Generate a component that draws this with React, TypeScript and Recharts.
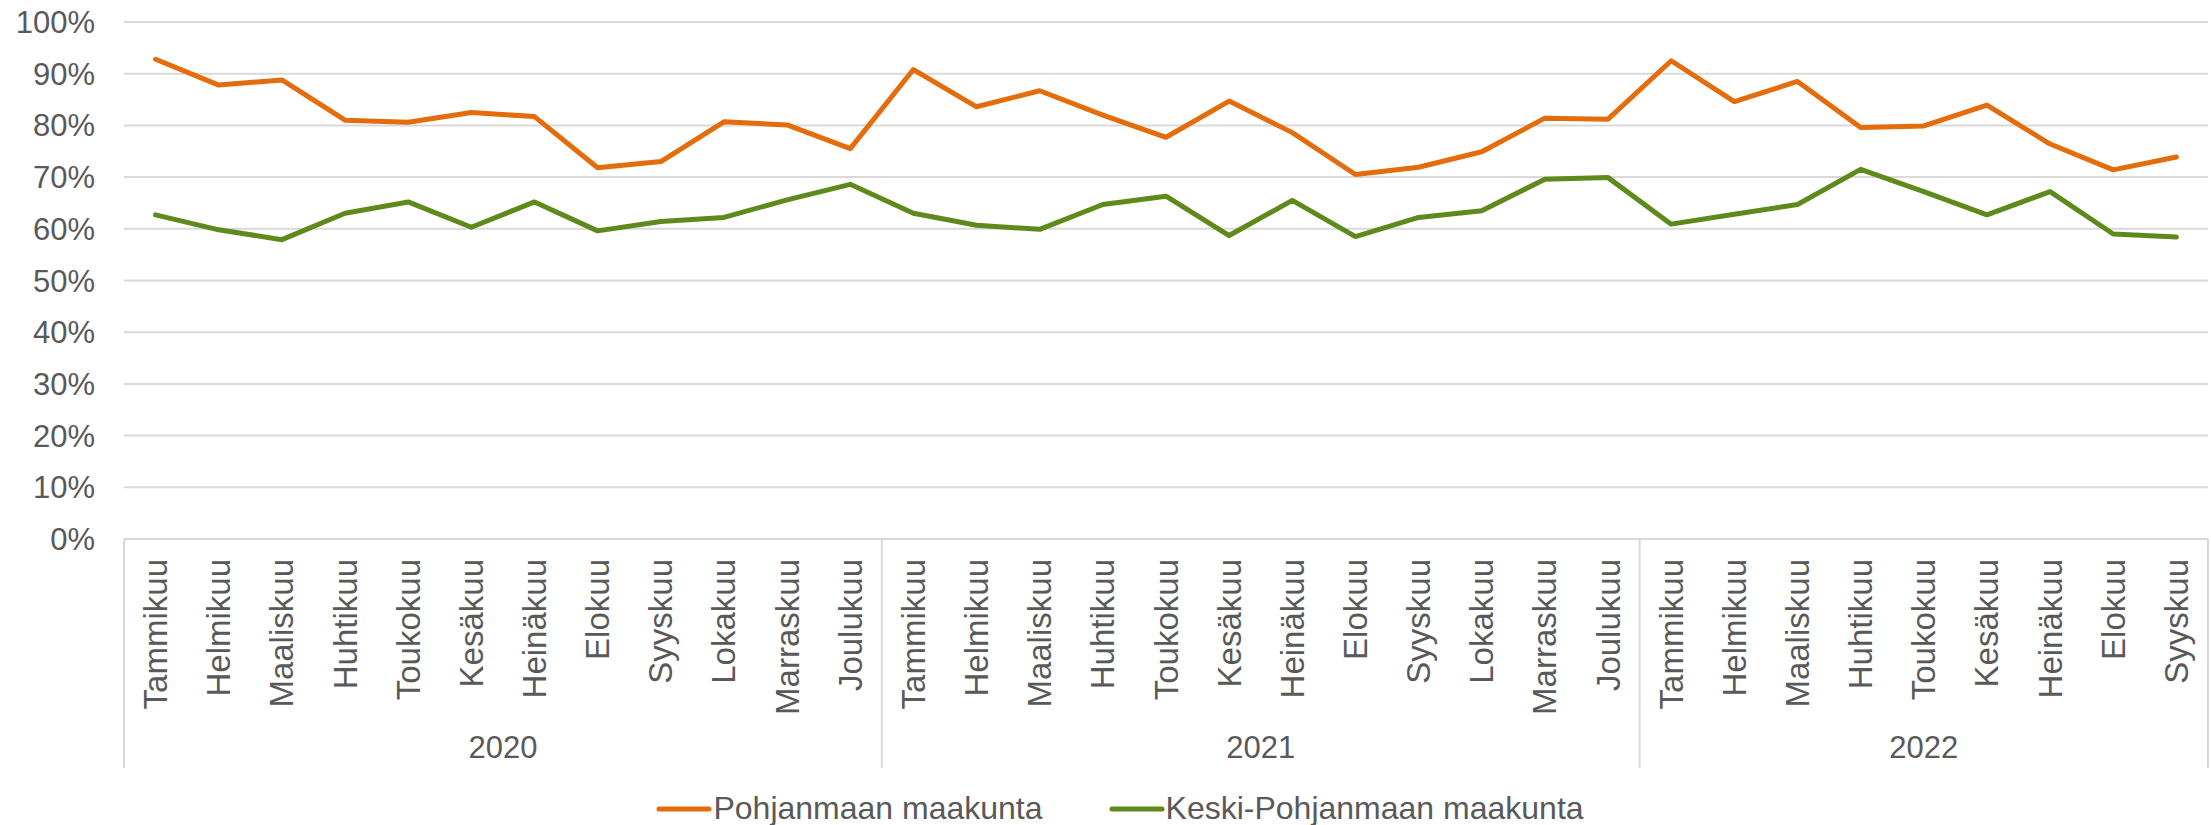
import { LineChart, Line, XAxis, YAxis, CartesianGrid, Legend } from "recharts";

const FONT = '"Liberation Sans", Arial, sans-serif';
const TEXT = "#595959";
const GRID = "#D9D9D9";
const ORANGE = "#E46C0A";
const GREEN = "#5E8A1C";

const years = ["2020", "2021", "2022"];
const monthsPerYear = [12, 12, 9];
const monthNames = [
  "Tammikuu", "Helmikuu", "Maaliskuu", "Huhtikuu", "Toukokuu", "Kesäkuu",
  "Heinäkuu", "Elokuu", "Syyskuu", "Lokakuu", "Marraskuu", "Joulukuu",
];
const yTicks = [0, 10, 20, 30, 40, 50, 60, 70, 80, 90, 100];

// % per month, 2020-01 .. 2022-09
const pohjanmaa = [
  92.8, 87.8, 88.8, 81.0, 80.6, 82.5, 81.7, 71.8, 73.0, 80.7, 80.1, 75.5,
  90.8, 83.6, 86.7, 82.0, 77.7, 84.7, 78.6, 70.5, 71.9, 74.9, 81.4, 81.2,
  92.5, 84.6, 88.5, 79.6, 79.9, 83.9, 76.4, 71.4, 73.9,
];
const keskiPohjanmaa = [
  62.7, 59.8, 57.9, 63.0, 65.2, 60.3, 65.2, 59.6, 61.4, 62.2, 65.6, 68.6,
  63.0, 60.7, 59.9, 64.7, 66.3, 58.7, 65.5, 58.5, 62.2, 63.5, 69.6, 69.9,
  60.9, 62.8, 64.7, 71.5, 67.2, 62.7, 67.2, 59.0, 58.4,
];

const data = years.flatMap((year, yi) =>
  monthNames.slice(0, monthsPerYear[yi]).map((month, mi) => ({ year, month, mi, count: monthsPerYear[yi] }))
).map((row, i) => ({ ...row, key: i, pohjanmaa: pohjanmaa[i], keski: keskiPohjanmaa[i] }));

const W = 2211;
const H = 825;
const Y_AXIS_W = 124;
const RIGHT = 3;
const PAD = 31.6;
const STEP = (W - Y_AXIS_W - RIGHT - 2 * PAD) / (data.length - 1);

function CategoryTick(props: any) {
  const { x, y, payload } = props;
  const row = data[payload.index];
  const half = STEP / 2;
  return (
    <g>
      <g transform={`translate(${x},${y + 20}) rotate(-90)`}>
        <text textAnchor="end" dominantBaseline="central" fill={TEXT} fontSize={33} fontFamily={FONT}>
          {row.month}
        </text>
      </g>
      {row.mi === 0 && (
        <>
          <line x1={x - half} x2={x - half} y1={y} y2={y + 229} stroke={GRID} strokeWidth={2} />
          <text
            x={x + ((row.count - 1) * STEP) / 2}
            y={y + 208}
            textAnchor="middle"
            dominantBaseline="central"
            fill={TEXT}
            fontSize={31}
            fontFamily={FONT}
          >
            {row.year}
          </text>
        </>
      )}
      {payload.index === data.length - 1 && (
        <line x1={x + half} x2={x + half} y1={y} y2={y + 229} stroke={GRID} strokeWidth={2} />
      )}
    </g>
  );
}

function LegendBox() {
  const items = [
    { name: "Pohjanmaan maakunta", color: ORANGE },
    { name: "Keski-Pohjanmaan maakunta", color: GREEN },
  ];
  return (
    <div style={{ display: "flex", justifyContent: "center", paddingLeft: 29, fontFamily: FONT, fontSize: 32, color: TEXT }}>
      {items.map((it, i) => (
        <div key={it.name} style={{ display: "flex", alignItems: "center", marginLeft: i ? 66 : 0 }}>
          <svg width={56} height={10} style={{ marginRight: 1 }}>
            <line x1={3} x2={53} y1={5} y2={5} stroke={it.color} strokeWidth={5} strokeLinecap="round" />
          </svg>
          <span>{it.name}</span>
        </div>
      ))}
    </div>
  );
}

export default function App() {
  return (
    <div style={{ position: "absolute", left: 0, top: 0, width: W, height: H, background: "#fff" }}>
      <LineChart width={W} height={H} data={data} margin={{ top: 22, right: RIGHT, bottom: 0, left: 0 }}>
        <CartesianGrid vertical={false} stroke={GRID} strokeWidth={2} />
        <XAxis
          dataKey="key"
          interval={0}
          height={286}
          padding={{ left: PAD, right: PAD }}
          tickLine={false}
          tickSize={0}
          tickMargin={0}
          axisLine={{ stroke: GRID, strokeWidth: 2 }}
          tick={CategoryTick}
        />
        <YAxis
          width={Y_AXIS_W}
          domain={[0, 100]}
          ticks={yTicks}
          tickFormatter={(v: number) => `${v}%`}
          axisLine={false}
          tickLine={false}
          tickSize={0}
          tickMargin={29}
          tick={{ fill: TEXT, fontSize: 31, fontFamily: FONT }}
        />
        <Line
          dataKey="pohjanmaa"
          name="Pohjanmaan maakunta"
          stroke={ORANGE}
          strokeWidth={5}
          strokeLinejoin="round"
          strokeLinecap="round"
          dot={false}
          activeDot={false}
          isAnimationActive={false}
        />
        <Line
          dataKey="keski"
          name="Keski-Pohjanmaan maakunta"
          stroke={GREEN}
          strokeWidth={5}
          strokeLinejoin="round"
          strokeLinecap="round"
          dot={false}
          activeDot={false}
          isAnimationActive={false}
        />
        <Legend verticalAlign="middle" content={<LegendBox />} wrapperStyle={{ top: 790, left: 0, width: W }} />
      </LineChart>
    </div>
  );
}
